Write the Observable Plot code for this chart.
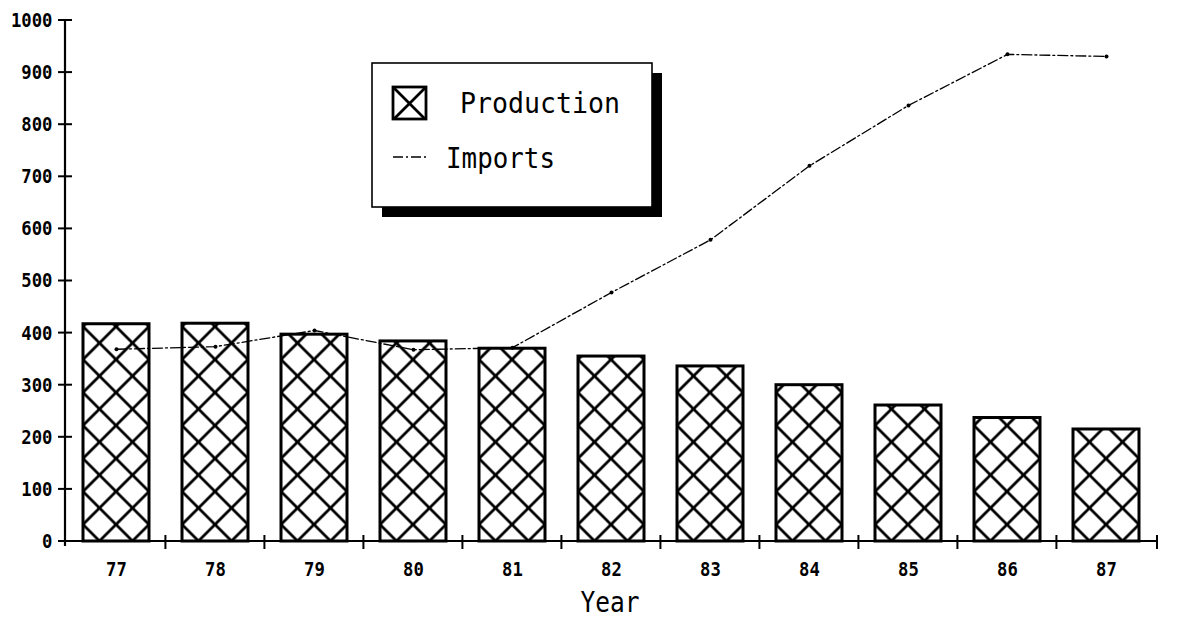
<!DOCTYPE html>
<html>
<head>
<meta charset="utf-8">
<script src="https://cdn.jsdelivr.net/npm/d3@7"></script>
<script src="https://cdn.jsdelivr.net/npm/@observablehq/plot@0.6"></script>
<style>
  html, body { margin: 0; padding: 0; background: #fff; }
  #chart svg { display: block; }
</style>
</head>
<body>
<div id="chart"></div>
<script>
const years = ["77", "78", "79", "80", "81", "82", "83", "84", "85", "86", "87"];
const production = [417, 418, 397, 384, 370, 355, 336, 300, 261, 237, 215];
const imports = [369, 374, 405, 368, 372, 478, 579, 721, 837, 935, 931];
const yTicks = [0, 100, 200, 300, 400, 500, 600, 700, 800, 900, 1000];
const seriesNames = ["Production", "Imports"];
const xLabel = "Year";

const data = years.map((year, i) => ({ year, production: production[i], imports: imports[i] }));

const PAD = 0.335;
const tickFont = "DejaVu Sans Mono";

const chart = Plot.plot({
  width: 1187,
  height: 618,
  marginLeft: 65,
  marginRight: 30,
  marginTop: 20,
  marginBottom: 77,
  x: { domain: years, paddingInner: PAD, paddingOuter: PAD / 2, label: null },
  y: { domain: [0, 1000], label: null },
  style: { background: "white", color: "black" },
  marks: [
    Plot.barY(data, { x: "year", y: "production", fill: "url(#hatch)", stroke: "black", strokeWidth: 3 }),
    Plot.lineY(data, { x: "year", y: "imports", stroke: "black", strokeWidth: 1.3, strokeDasharray: "10,3,2,3" }),
    Plot.dot(data, { x: "year", y: "imports", r: 2, fill: "black" }),
    Plot.axisY({ ticks: yTicks, tickSize: 0, tickPadding: 13, fontSize: 20, fontWeight: "bold", fontFamily: tickFont, tickFormat: d => String(d), label: null }),
    Plot.axisX({ tickSize: 0, tickPadding: 20, fontSize: 20, fontWeight: "bold", fontFamily: tickFont, label: null })
  ]
});

document.getElementById("chart").appendChild(chart);

const svg = d3.select(chart);
const xs = chart.scale("x");
const ys = chart.scale("y");
const [rx0, rx1] = xs.range;
const step = xs.step;
const y0 = ys.apply(0);
const yTop = ys.apply(1000);
const s = step / 3;

// condensed look for tick labels
svg.selectAll('g[aria-label="y-axis tick label"] text, g[aria-label="x-axis tick label"] text')
  .attr("textLength", function () { return this.textContent.length * 10.4; })
  .attr("lengthAdjust", "spacingAndGlyphs");

// hatch patterns
function addHatch(defs, id, px, py, size) {
  const p = defs.append("pattern")
    .attr("id", id)
    .attr("patternUnits", "userSpaceOnUse")
    .attr("x", px).attr("y", py)
    .attr("width", size).attr("height", size);
  p.append("rect").attr("width", size).attr("height", size).attr("fill", "white");
  const k = size;
  const d = [
    `M${-k},${-k}L${2 * k},${2 * k}`,
    `M0,${-k}L${2 * k},${k}`,
    `M${-k},0L${k},${2 * k}`,
    `M${2 * k},${-k}L${-k},${2 * k}`,
    `M${k},${-k}L${-k},${k}`,
    `M${2 * k},0L0,${2 * k}`
  ].join("");
  p.append("path").attr("d", d).attr("stroke", "black").attr("stroke-width", 2.8).attr("fill", "none");
}
const defs = svg.insert("defs", ":first-child");
addHatch(defs, "hatch", xs.apply(years[0]), y0 - s / 2, s);

// axis lines and crossing ticks
const axes = svg.append("g").attr("stroke", "black").attr("fill", "none");
axes.append("line").attr("x1", rx0).attr("x2", rx0).attr("y1", yTop).attr("y2", y0 + 5).attr("stroke-width", 2.2);
axes.append("line").attr("x1", rx0 - 2).attr("x2", rx1).attr("y1", y0).attr("y2", y0).attr("stroke-width", 2.2);
yTicks.forEach(t => {
  const yy = ys.apply(t);
  axes.append("line").attr("x1", rx0 - 7).attr("x2", rx0 + 7).attr("y1", yy).attr("y2", yy).attr("stroke-width", 2);
});
const bounds = years.slice(1).map(yv => xs.apply(yv) - PAD * step / 2).concat([rx1]);
bounds.forEach(bx => {
  axes.append("line").attr("x1", bx).attr("x2", bx).attr("y1", y0 - 6).attr("y2", y0 + 8).attr("stroke-width", 2);
});

// x axis title
svg.append("text")
  .attr("x", (rx0 + rx1) / 2 - 1).attr("y", 612)
  .attr("text-anchor", "middle")
  .attr("font-family", tickFont).attr("font-size", 29)
  .attr("textLength", 59).attr("lengthAdjust", "spacingAndGlyphs")
  .attr("fill", "black")
  .text(xLabel);

// legend
const lg = svg.append("g").attr("text-anchor", "start");
lg.append("rect").attr("x", 382).attr("y", 73).attr("width", 280).attr("height", 144).attr("fill", "black");
lg.append("rect").attr("x", 372).attr("y", 63).attr("width", 280).attr("height", 144).attr("fill", "white").attr("stroke", "black").attr("stroke-width", 1.6);
addHatch(defs, "hatchLegend", 393, 87, 33);
lg.append("rect").attr("x", 393).attr("y", 87).attr("width", 33).attr("height", 32).attr("fill", "url(#hatchLegend)").attr("stroke", "black").attr("stroke-width", 2.8);
lg.append("text").attr("x", 460).attr("y", 113)
  .attr("text-anchor", "start")
  .attr("font-family", tickFont).attr("font-size", 29)
  .attr("textLength", 160).attr("lengthAdjust", "spacingAndGlyphs")
  .attr("fill", "black").text(seriesNames[0]);
lg.append("line").attr("x1", 393).attr("x2", 427).attr("y1", 157).attr("y2", 157)
  .attr("stroke", "black").attr("stroke-width", 1.3).attr("stroke-dasharray", "10,3,2,3");
lg.append("text").attr("x", 446).attr("y", 168)
  .attr("text-anchor", "start")
  .attr("font-family", tickFont).attr("font-size", 29)
  .attr("textLength", 109).attr("lengthAdjust", "spacingAndGlyphs")
  .attr("fill", "black").text(seriesNames[1]);
</script>
</body>
</html>
